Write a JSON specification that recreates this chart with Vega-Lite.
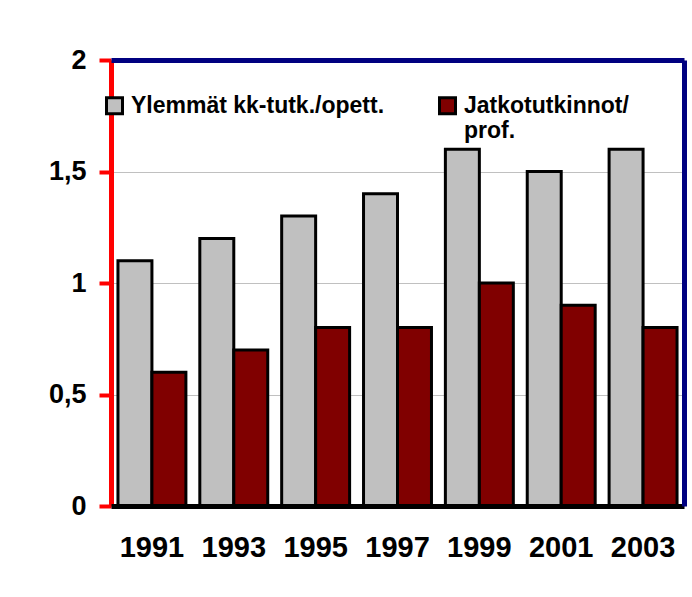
{
  "$schema": "https://vega.github.io/schema/vega-lite/v6.json",
  "width": 573,
  "height": 446,
  "autosize": {"type": "none"},
  "padding": {"left": 111, "top": 60, "right": 8, "bottom": 91},
  "background": "white",
  "config": {
    "view": {"stroke": null},
    "font": "Liberation Sans"
  },
  "data": {
    "values": [
      {"year": "1991", "series": "Ylemmät kk-tutk./opett.", "value": 1.1},
      {"year": "1991", "series": "Jatkotutkinnot/prof.", "value": 0.6},
      {"year": "1993", "series": "Ylemmät kk-tutk./opett.", "value": 1.2},
      {"year": "1993", "series": "Jatkotutkinnot/prof.", "value": 0.7},
      {"year": "1995", "series": "Ylemmät kk-tutk./opett.", "value": 1.3},
      {"year": "1995", "series": "Jatkotutkinnot/prof.", "value": 0.8},
      {"year": "1997", "series": "Ylemmät kk-tutk./opett.", "value": 1.4},
      {"year": "1997", "series": "Jatkotutkinnot/prof.", "value": 0.8},
      {"year": "1999", "series": "Ylemmät kk-tutk./opett.", "value": 1.6},
      {"year": "1999", "series": "Jatkotutkinnot/prof.", "value": 1.0},
      {"year": "2001", "series": "Ylemmät kk-tutk./opett.", "value": 1.5},
      {"year": "2001", "series": "Jatkotutkinnot/prof.", "value": 0.9},
      {"year": "2003", "series": "Ylemmät kk-tutk./opett.", "value": 1.6},
      {"year": "2003", "series": "Jatkotutkinnot/prof.", "value": 0.8}
    ]
  },
  "layer": [
    {
      "mark": {"type": "bar", "stroke": "black", "strokeWidth": 3, "strokeOpacity": 1},
      "encoding": {
        "x": {
          "field": "year", "type": "nominal",
          "scale": {"paddingInner": 0.17, "paddingOuter": 0.085},
          "axis": {
            "orient": "bottom", "title": null, "labelAngle": 0,
            "labelFont": "Liberation Sans", "labelFontWeight": "bold", "labelFontSize": 29,
            "labelColor": "black", "labelPadding": 27,
            "ticks": false, "tickSize": 0,
            "domainColor": "black", "domainWidth": 5, "zindex": 1
          }
        },
        "xOffset": {
          "field": "series", "type": "nominal",
          "sort": ["Ylemmät kk-tutk./opett.", "Jatkotutkinnot/prof."],
          "scale": {"paddingInner": 0, "paddingOuter": 0}
        },
        "y": {
          "field": "value", "type": "quantitative",
          "scale": {"domain": [0, 2], "nice": false},
          "axis": {
            "orient": "left", "title": null,
            "values": [0, 0.5, 1, 1.5, 2],
            "labelExpr": "replace(format(datum.value, '~g'), '.', ',')",
            "labelFont": "Liberation Sans", "labelFontWeight": "bold", "labelFontSize": 27,
            "labelColor": "black", "labelPadding": 13,
            "ticks": true, "tickColor": "#ff0000", "tickWidth": 4, "tickSize": 12,
            "domainColor": "#ff0000", "domainWidth": 5,
            "grid": true, "gridColor": "#c0c0c0", "gridWidth": 1
          }
        },
        "color": {
          "field": "series", "type": "nominal",
          "scale": {
            "domain": ["Ylemmät kk-tutk./opett.", "Jatkotutkinnot/prof."],
            "range": ["#c0c0c0", "#800000"]
          },
          "legend": {
            "title": null,
            "orient": "none",
            "legendX": -8,
            "legendY": 34,
            "direction": "horizontal",
            "columns": 2,
            "columnPadding": 48,
            "padding": 0,
            "symbolType": "square",
            "symbolSize": 256,
            "symbolStrokeColor": "black",
            "symbolStrokeWidth": 3,
            "symbolOpacity": 1,
            "labelFont": "Liberation Sans",
            "labelFontWeight": "bold",
            "labelFontSize": 23,
            "labelColor": "black",
            "labelOffset": 5,
            "labelLimit": 400,
            "labelExpr": "datum.label == 'Jatkotutkinnot/prof.' ? ['Jatkotutkinnot/', 'prof.'] : [datum.label, ' ']"
          }
        }
      }
    },
    {
      "mark": {"type": "bar", "opacity": 0},
      "encoding": {
        "x": {
          "field": "year", "type": "nominal",
          "axis": {
            "orient": "top", "title": null, "labels": false, "ticks": false,
            "domainColor": "#000080", "domainWidth": 5, "grid": false, "zindex": 1
          }
        },
        "y": {
          "field": "value", "type": "quantitative",
          "axis": {
            "orient": "right", "title": null, "labels": false, "ticks": false,
            "domainColor": "#000080", "domainWidth": 5, "grid": false, "zindex": 1
          }
        }
      }
    }
  ],
  "resolve": {"axis": {"x": "independent", "y": "independent"}}
}
